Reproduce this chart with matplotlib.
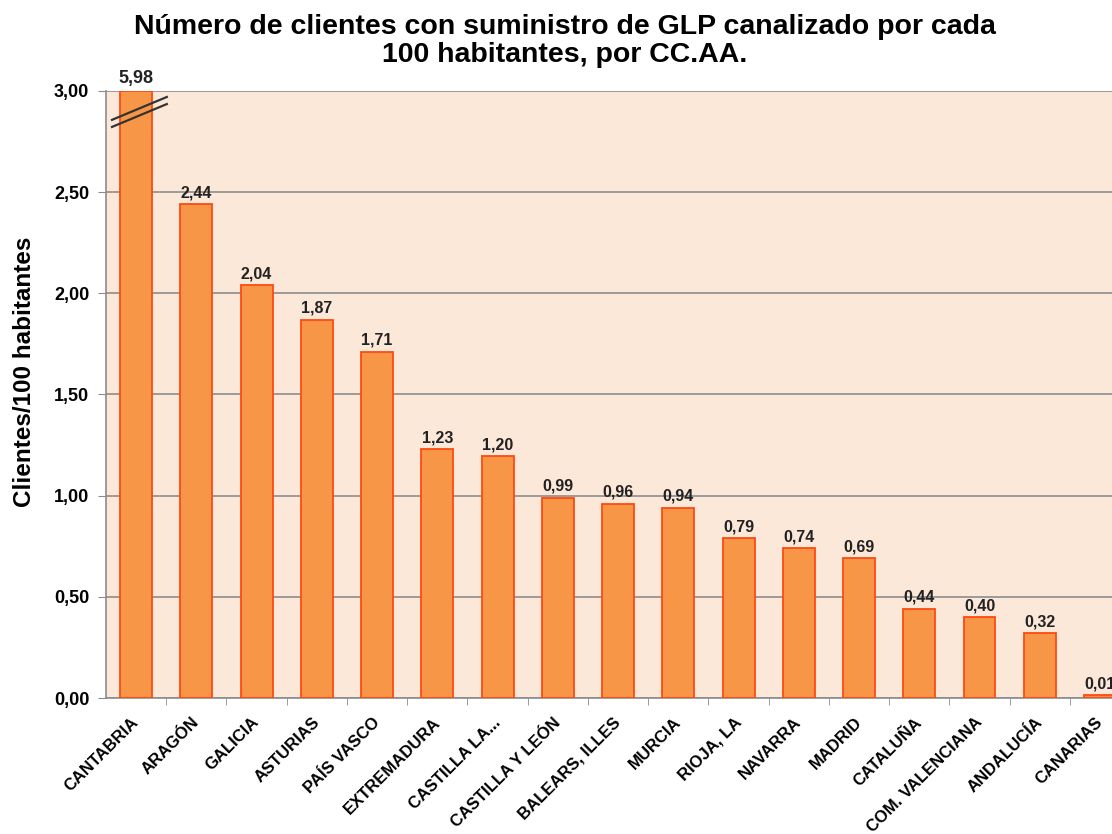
import matplotlib.pyplot as plt
import matplotlib.transforms as mtransforms
import numpy as np

# Clientes con suministro de GLP canalizado por cada 100 habitantes
regiones = ['CANTABRIA', 'ARAGÓN', 'GALICIA', 'ASTURIAS', 'PAÍS VASCO',
            'EXTREMADURA', 'CASTILLA LA...', 'CASTILLA Y LEÓN', 'BALEARS, ILLES',
            'MURCIA', 'RIOJA, LA', 'NAVARRA', 'MADRID', 'CATALUÑA',
            'COM. VALENCIANA', 'ANDALUCÍA', 'CANARIAS']
valores = [5.98, 2.44, 2.04, 1.87, 1.71, 1.23, 1.195, 0.99, 0.96, 0.94,
           0.79, 0.74, 0.69, 0.44, 0.40, 0.32, 0.014]
y_ticks = [0.0, 0.5, 1.0, 1.5, 2.0, 2.5, 3.0]
y_max = 3.0


def main():
    plt.rcParams['font.family'] = ['Liberation Sans', 'DejaVu Sans']

    fig = plt.figure(figsize=(11.12, 8.34), dpi=100)
    ax = fig.add_axes([0.0953, 0.163, 0.921, 0.728])
    ax.set_facecolor('#FCE8D9')

    x = np.arange(len(regiones))
    alturas = [min(v, y_max) for v in valores]
    ax.bar(x, alturas, width=0.53, color='#F79646', edgecolor='#FF4A12',
           linewidth=1.3, zorder=3)

    for xi, v, h in zip(x, valores, alturas):
        size = 13 if v > y_max else 11.5
        ax.text(xi, h + 0.02, f'{v:.2f}'.replace('.', ','), ha='center',
                va='bottom', fontsize=size, fontweight='bold', color='#222222',
                zorder=4, clip_on=False)

    # marcas de corte en la barra de Cantabria
    for dy in (0.0, -0.035):
        ax.plot([-0.40, 0.51], [2.857 + dy, 2.97 + dy], color='#333333',
                linewidth=1.6, zorder=5, clip_on=False)

    ax.set_xlim(-0.5, len(regiones) - 0.5)
    ax.set_ylim(0, y_max)
    ax.set_yticks(y_ticks)
    ax.set_yticklabels([f'{t:.2f}'.replace('.', ',') for t in y_ticks],
                       fontsize=13, fontweight='bold')
    ax.yaxis.grid(True, color='#8C8C8C', linewidth=1.2, zorder=1)
    ax.set_axisbelow(True)

    ax.set_xticks(x)
    ax.set_xticklabels(regiones, rotation=45, ha='right', rotation_mode='anchor',
                       fontsize=12, fontweight='bold')
    ax.tick_params(axis='x', length=0, pad=12)
    shift = mtransforms.ScaledTranslation(-5 / 100, 0, fig.dpi_scale_trans)
    for lbl in ax.get_xticklabels():
        lbl.set_transform(lbl.get_transform() + shift)
    ax.set_xticks(np.arange(len(regiones)) + 0.5, minor=True)
    ax.tick_params(axis='x', which='minor', length=5, color='#8C8C8C')
    ax.tick_params(axis='y', length=6, color='#8C8C8C', pad=6)

    for s in ('top', 'right'):
        ax.spines[s].set_visible(False)
    for s in ('left', 'bottom'):
        ax.spines[s].set_color('#8C8C8C')
        ax.spines[s].set_linewidth(1.2)

    ax.set_ylabel('Clientes/100 habitantes', fontsize=17.5, fontweight='bold')
    ax.yaxis.set_label_coords(-0.068, 0.537)
    fig.suptitle('Número de clientes con suministro de GLP canalizado por cada\n'
                 '100 habitantes, por CC.AA.', x=0.508, y=0.983, va='top',
                 fontsize=20.5, fontweight='bold', linespacing=1.08)

    fig.savefig('out.png', dpi=100)


if __name__ == "__main__":
    main()
